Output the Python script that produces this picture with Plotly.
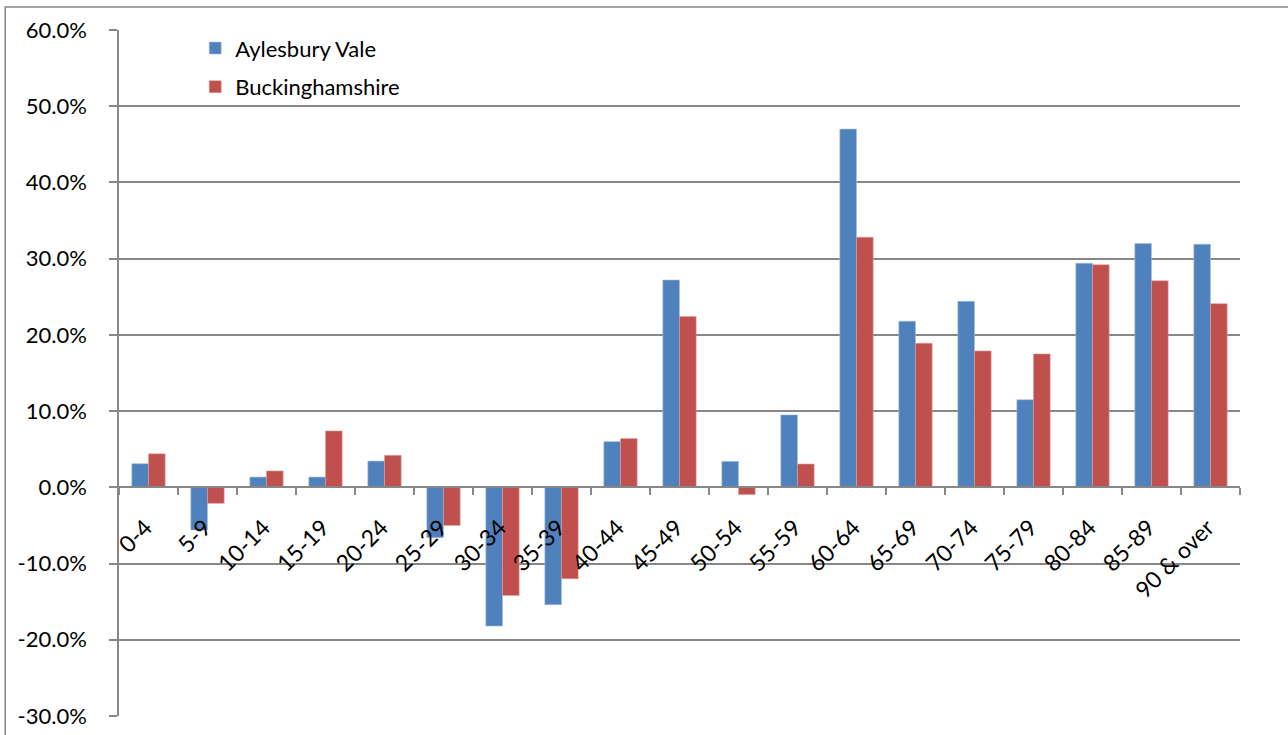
import plotly.graph_objects as go

categories = ["0-4", "5-9", "10-14", "15-19", "20-24", "25-29", "30-34", "35-39",
              "40-44", "45-49", "50-54", "55-59", "60-64", "65-69", "70-74", "75-79",
              "80-84", "85-89", "90 & over"]
aylesbury_vale = [3.1, -5.6, 1.35, 1.35, 3.45, -6.6, -18.2, -15.4, 6.0, 27.2,
                  3.4, 9.5, 47.0, 21.8, 24.4, 11.5, 29.4, 32.0, 31.9]
buckinghamshire = [4.4, -2.1, 2.15, 7.4, 4.2, -5.0, -14.2, -12.0, 6.4, 22.4,
                   -0.95, 3.06, 32.8, 18.9, 17.9, 17.5, 29.2, 27.1, 24.1]
y_ticks = [-30, -20, -10, 0, 10, 20, 30, 40, 50, 60]
y_tick_labels = [f"{v:.1f}%" for v in y_ticks]

BLUE = "#4F81BD"
RED = "#C0504D"
GREY = "#878787"
FONT = "Lato, 'Open Sans', sans-serif"
FS = 22

fig = go.Figure()
fig.add_trace(go.Bar(x=categories, y=aylesbury_vale, name="Aylesbury Vale",
                     marker=dict(color=BLUE, line=dict(width=0.6, color="#A9C0DE")),
                     legendgroup="a"))
fig.add_trace(go.Bar(x=categories, y=buckinghamshire, name="Buckinghamshire",
                     marker=dict(color=RED, line=dict(width=0.6, color="#DE9E9C")),
                     legendgroup="b"))

fig.update_layout(
    width=1288, height=735,
    margin=dict(l=119, r=48, t=30, b=19, autoexpand=False),
    paper_bgcolor="white", plot_bgcolor="white",
    barmode="group", bargap=0.435, bargroupgap=0,
    font=dict(family=FONT, size=FS, color="black"),
    showlegend=True,
    legend=dict(x=0.068, y=1.004, xanchor="left", yanchor="top",
                bgcolor="rgba(0,0,0,0)", font=dict(size=FS, family=FONT),
                traceorder="grouped", tracegroupgap=7),
    xaxis=dict(type="category", anchor="free", position=1/3, automargin=False,
               showline=True, linecolor=GREY, linewidth=1.5,
               ticks="outside", ticklen=7, tickcolor=GREY, tickwidth=1.5,
               tickson="boundaries", tickangle=-45, showgrid=False,
               tickfont=dict(size=23, family=FONT), zeroline=False,
               ticklabelstandoff=17, ticklabelshift=-3),
    yaxis=dict(range=[-30, 60], domain=[0, 1], tickmode="array", automargin=False,
               tickvals=y_ticks, ticktext=y_tick_labels,
               showline=True, linecolor=GREY, linewidth=1.5,
               ticks="outside", ticklen=8, tickcolor=GREY, tickwidth=1.5,
               showgrid=True, gridcolor=GREY, gridwidth=1.5,
               zeroline=False, tickfont=dict(size=FS, family=FONT),
               ticklabelstandoff=18),
    shapes=[dict(type="rect", xref="paper", yref="paper",
                 x0=-0.1015, x1=1.2, y0=-0.2, y1=1.0335,
                 line=dict(color=GREY, width=1.5), layer="below")],
)

fig.write_html("out.html", config={"displayModeBar": False},
               post_script="document.body.style.margin='0';document.body.style.overflow='hidden';")
